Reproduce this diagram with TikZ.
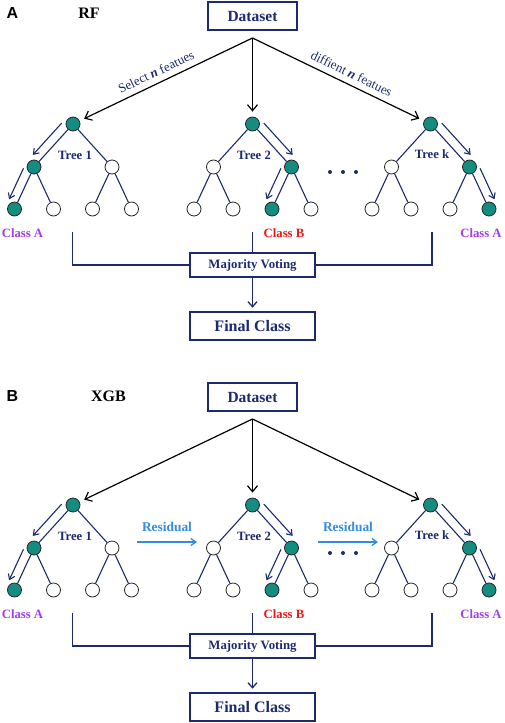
\documentclass[tikz,border=0pt]{standalone}
\usepackage{fontspec}
\setmainfont{Liberation Serif}
\newfontfamily\lsans{Liberation Sans}
\usetikzlibrary{calc,arrows.meta}
\definecolor{navy}{RGB}{28,42,112}
\definecolor{tealc}{RGB}{20,140,128}
\definecolor{purp}{RGB}{160,60,240}
\definecolor{redc}{RGB}{235,25,25}
\definecolor{resblue}{RGB}{50,140,225}
\newcommand\fsz[1]{\fontsize{#1}{#1}\selectfont}
\tikzset{
  boxnode/.style={draw=navy, line width=1.3pt, text=navy, font=\fsz{15.5}\bfseries, inner sep=0pt, minimum width=89pt, minimum height=28pt},
  fnode/.style={circle, draw=black!85, line width=0.8pt, fill=tealc, minimum size=14pt, inner sep=0pt},
  enode/.style={circle, draw=black!85, line width=0.8pt, fill=white, minimum size=14pt, inner sep=0pt},
  tedge/.style={draw=navy, line width=1.1pt},
  pathar/.style={navy, line width=1.1pt, -{Straight Barb[length=5pt,width=7pt]}},
  dsar/.style={black, line width=1.2pt, -{Straight Barb[length=6pt,width=10pt]}, shorten >=5pt},
  treelab/.style={text=navy, font=\fsz{12.7}\bfseries, inner sep=0pt},
  classlab/.style={font=\fsz{12.7}\bfseries, inner sep=0pt},
  vline/.style={draw=navy, line width=1.3pt},
  panellab/.style={font=\fsz{16}\lsans\bfseries, inner sep=0pt},
  methlab/.style={font=\fsz{16}\bfseries, inner sep=0pt},
  edgelab/.style={text=navy, font=\fsz{13}, sloped, above=3pt},
  resar/.style={resblue, line width=1.3pt, -{Straight Barb[length=5pt,width=7pt]}},
  reslab/.style={text=resblue, font=\fsz{13.4}\bfseries, inner sep=0pt},
}
% #1 prefix, #2 root x, #3 root, #4 c1, #5 c2, #6 l1, #7 l2, #8 l3, #9 l4
\newcommand\mytree[9]{%
  \node[#3] (#1r) at (#2,124) {};
  \node[#4] (#1a) at (#2-39,167) {};
  \node[#5] (#1b) at (#2+39,167) {};
  \node[#6] (#1aa) at (#2-58.5,209) {};
  \node[#7] (#1ab) at (#2-19.5,209) {};
  \node[#8] (#1ba) at (#2+19.5,209) {};
  \node[#9] (#1bb) at (#2+58.5,209) {};
  \draw[tedge] (#1r) -- (#1a);
  \draw[tedge] (#1r) -- (#1b);
  \draw[tedge] (#1a) -- (#1aa);
  \draw[tedge] (#1a) -- (#1ab);
  \draw[tedge] (#1b) -- (#1ba);
  \draw[tedge] (#1b) -- (#1bb);
}
\newcommand\sidear[3]{%
  \draw[pathar] ($(#1)!0.12!(#2)!9pt!#3:(#2)$) -- ($(#1)!0.86!(#2)!9pt!#3:(#2)$);}
% #1 prefix
\newcommand\panelbody[1]{%
  \node[boxnode] (#1ds) at (252.5,16) {Dataset};
  \coordinate (#1apex) at (252.5,38);
  \mytree{#1t1}{73}{fnode}{fnode}{enode}{fnode}{enode}{enode}{enode}
  \mytree{#1t2}{252.5}{fnode}{enode}{fnode}{enode}{enode}{fnode}{enode}
  \mytree{#1tk}{430.5}{fnode}{enode}{fnode}{enode}{enode}{enode}{fnode}
  \node[treelab] (#1l1) at (75,155) {Tree 1};
  \node[treelab] (#1l2) at (254,155) {Tree 2};
  \node[treelab] (#1lk) at (432,154) {Tree k};
  \sidear{#1t1r}{#1t1a}{-90}
  \sidear{#1t1a}{#1t1aa}{-90}
  \sidear{#1t2r}{#1t2b}{90}
  \sidear{#1t2b}{#1t2ba}{-90}
  \sidear{#1tkr}{#1tkb}{90}
  \sidear{#1tkb}{#1tkbb}{90}
  \fill[navy] (330,172) circle (2pt) (343,172) circle (2pt) (356,172) circle (2pt);
  \node[classlab, text=purp] (#1c1) at (22.5,233) {Class A};
  \node[classlab, text=redc] (#1c2) at (284,233) {Class B};
  \node[classlab, text=purp] (#1ck) at (481,233) {Class A};
  \node[boxnode, minimum width=125pt, minimum height=24pt, font=\fsz{12.8}\bfseries] (#1mv) at (252.5,265) {Majority Voting};
  \node[boxnode, minimum width=125pt, minimum height=28pt, font=\fsz{16}\bfseries] (#1fc) at (252.5,326) {Final Class};
  \coordinate (#1v1) at (72.5,232);
  \coordinate (#1v2) at (252.5,232);
  \coordinate (#1vk) at (432,232);
  \draw[vline] (#1v1) |- (#1mv.west);
  \draw[vline] (#1v2) -- (#1mv.north);
  \draw[vline] (#1vk) |- (#1mv.east);
  \draw[navy, line width=1.3pt, -{Straight Barb[length=5pt,width=9pt]}] (#1mv.south) -- ++(0,30);
  \draw[dsar] (#1apex) -- (#1t1r);
  \draw[dsar] (#1apex) -- (#1t2r);
  \draw[dsar] (#1apex) -- (#1tkr);
}
\begin{document}
\begin{tikzpicture}[x=1pt,y=-1pt]
\useasboundingbox (0,0) rectangle (505,723);
% Panel A
\panelbody{A}
\node[panellab] (labA) at (12.5,13) {A};
\node[methlab] (labRF) at (89,13) {RF};
\path (Aapex) -- (At1r) node[edgelab, pos=0.53] (eA1) {Select \textbf{\textit{n}} featues};
\path (Aapex) -- (Atkr) node[edgelab, pos=0.55] (eA2) {diffient \textbf{\textit{n}} featues};
% Panel B
\begin{scope}[yshift=-381pt]
\panelbody{B}
\node[panellab] (labB) at (12.5,15) {B};
\node[methlab] (labXGB) at (108.5,15) {XGB};
\coordinate (r1s) at (137,161);
\coordinate (r1e) at (197,161);
\coordinate (r2s) at (318,161);
\coordinate (r2e) at (378,161);
\draw[resar] (r1s) -- (r1e);
\draw[resar] (r2s) -- (r2e);
\node[reslab] (res1) at (167,146) {Residual};
\node[reslab] (res2) at (348,146) {Residual};
\end{scope}
\end{tikzpicture}
\end{document}
